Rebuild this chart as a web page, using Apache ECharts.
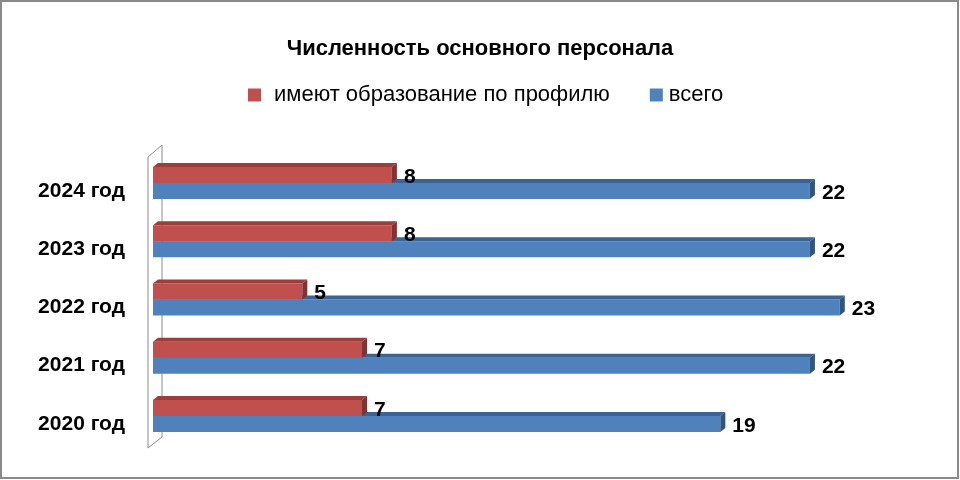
<!DOCTYPE html>
<html lang="ru">
<head>
<meta charset="UTF-8">
<title>Численность основного персонала</title>
<script src="https://cdn.jsdelivr.net/npm/echarts@6/dist/echarts.min.js"></script>
<style>
  html, body { margin: 0; padding: 0; background: #fff; }
  #chart { width: 960px; height: 480px; }
</style>
</head>
<body>
<div id="chart"></div>
<script>
// данные графика
var years = ['2020 год', '2021 год', '2022 год', '2023 год', '2024 год'];
var profileValues = [7, 7, 5, 8, 8];     // имеют образование по профилю
var totalValues = [19, 22, 23, 22, 22];  // всего
var seriesNames = ['имеют образование по профилю', 'всего'];

var chart = echarts.init(document.getElementById('chart'));

// объёмный столбик: лицевая грань, верх и торец
function bar3d(upper, front, topFace, side) {
  return function (params, api) {
    var idx = api.value(0);
    var v = api.value(1);
    var p0 = api.coord([0, idx]);
    var p1 = api.coord([v, idx]);
    var h = 16, dx = 5, dy = -4;
    var y0 = upper ? p0[1] - h : p0[1];
    var x0 = p0[0], x1 = p1[0];
    return {
      type: 'group',
      children: [
        { type: 'rect', shape: { x: x0, y: y0, width: x1 - x0, height: h },
          style: { fill: front } },
        { type: 'polygon', shape: { points: [[x0, y0], [x1, y0], [x1 + dx, y0 + dy], [x0 + dx, y0 + dy]] },
          style: { fill: topFace } },
        { type: 'polygon', shape: { points: [[x1, y0], [x1, y0 + h], [x1 + dx, y0 + h + dy], [x1 + dx, y0 + dy]] },
          style: { fill: side } },
        { type: 'text', x: x1 + dx + 7, y: y0 + h / 2 + 2,
          style: { text: String(v), fill: '#000', fontSize: 21, fontWeight: 'bold',
                   fontFamily: 'Liberation Sans', verticalAlign: 'middle', align: 'left' } }
      ]
    };
  };
}

function toData(arr) {
  return arr.map(function (v, i) { return [i, v]; });
}

chart.setOption({
  animation: false,
  title: {
    text: 'Численность основного персонала',
    left: 'center',
    top: 33,
    textStyle: { fontSize: 22, fontWeight: 'bold', color: '#000', fontFamily: 'Liberation Sans' }
  },
  legend: {
    data: [
      { name: seriesNames[0] },
      { name: seriesNames[1], textStyle: { padding: [0, 0, 0, 1] } }
    ],
    top: 79,
    left: 243,
    icon: 'rect',
    itemWidth: 13,
    itemHeight: 13,
    itemGap: 40,
    textStyle: { fontSize: 22, color: '#000', fontFamily: 'Liberation Sans', padding: [0, 0, 0, 8] }
  },
  grid: { left: 153, right: 60.5, top: 154, bottom: 35 },
  xAxis: {
    type: 'value', min: 0, max: 25, show: false
  },
  yAxis: {
    type: 'category',
    data: years,
    axisLine: { show: false },
    axisTick: { show: false },
    axisLabel: {
      margin: 28, fontSize: 21, fontWeight: 'bold', color: '#000',
      fontFamily: 'Liberation Sans', verticalAlign: 'top', lineHeight: 16
    }
  },
  graphic: [
    { type: 'rect', shape: { x: 1, y: 1, width: 957, height: 477 },
      style: { fill: 'none', stroke: '#8a8a8a', lineWidth: 2 }, silent: true },
    { type: 'polyline', shape: { points: [[148, 448], [148, 157], [162, 145], [162, 437], [148, 448]] },
      style: { fill: 'none', stroke: '#8c8c8c', lineWidth: 1 }, silent: true }
  ],
  series: [
    {
      name: seriesNames[1], type: 'custom', encode: { x: 1, y: 0 },
      itemStyle: { color: '#4F81BD' },
      renderItem: bar3d(false, '#4F81BD', '#3B6394', '#2F5482'),
      data: toData(totalValues), z: 2
    },
    {
      name: seriesNames[0], type: 'custom', encode: { x: 1, y: 0 },
      itemStyle: { color: '#C0504D' },
      renderItem: bar3d(true, '#C0504D', '#9C3E3B', '#823230'),
      data: toData(profileValues), z: 3
    }
  ]
});
</script>
</body>
</html>
